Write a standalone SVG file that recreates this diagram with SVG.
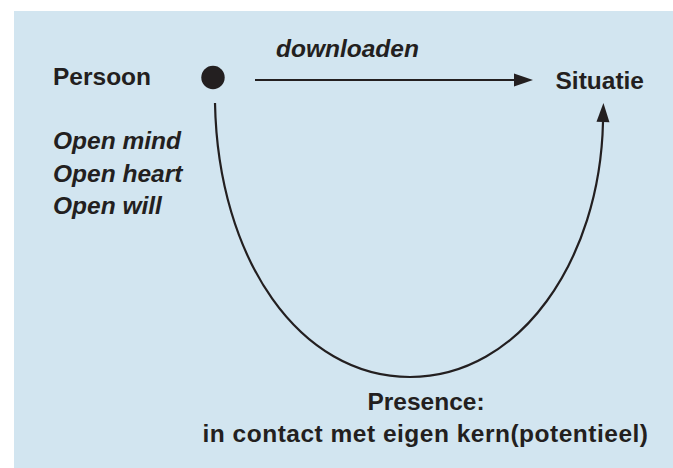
<svg xmlns="http://www.w3.org/2000/svg" width="673" height="468" viewBox="0 0 673 468">
  <defs>
    <style>
      .t { font-family: "Liberation Sans", Arial, sans-serif; font-weight: bold; font-size: 24.5px; fill: #231f20; }
      .i { font-style: italic; }
      .c { fill: none; stroke: #231f20; stroke-width: 2.2; }
    </style>
    <marker id="ah" markerUnits="userSpaceOnUse" markerWidth="19" markerHeight="14" refX="0" refY="6.5" orient="auto" overflow="visible">
      <path d="M0,0 L19,6.5 L0,13 Z" fill="#231f20"/>
    </marker>
  </defs>
  <rect x="0" y="0" width="673" height="468" fill="#ffffff"/>
  <rect x="14" y="11" width="659" height="457" fill="#d2e5f0"/>

  <g id="connectors">
    <line class="c" x1="255" y1="80" x2="514" y2="80" marker-end="url(#ah)"/>
    <path class="c" d="M215,103 C218,260 300,377 410,377 C520,377 600,260 603,122" marker-end="url(#ah)"/>
  </g>

  <g id="persoon">
    <circle cx="213" cy="77.5" r="11.7" fill="#231f20"/>
    <text class="t" x="53" y="85">Persoon</text>
  </g>

  <g id="situatie">
    <text class="t" x="555.5" y="89">Situatie</text>
  </g>

  <g id="downloaden-label">
    <text class="t i" x="276" y="57">downloaden</text>
  </g>

  <g id="open-labels">
    <text class="t i" x="53" y="149">Open mind</text>
    <text class="t i" x="53" y="182">Open heart</text>
    <text class="t i" x="53" y="214">Open will</text>
  </g>

  <g id="presence">
    <text class="t" x="426" y="410" text-anchor="middle">Presence:</text>
    <text class="t" x="425.5" y="442" text-anchor="middle" letter-spacing="0.5">in contact met eigen kern(potentieel)</text>
  </g>
</svg>
